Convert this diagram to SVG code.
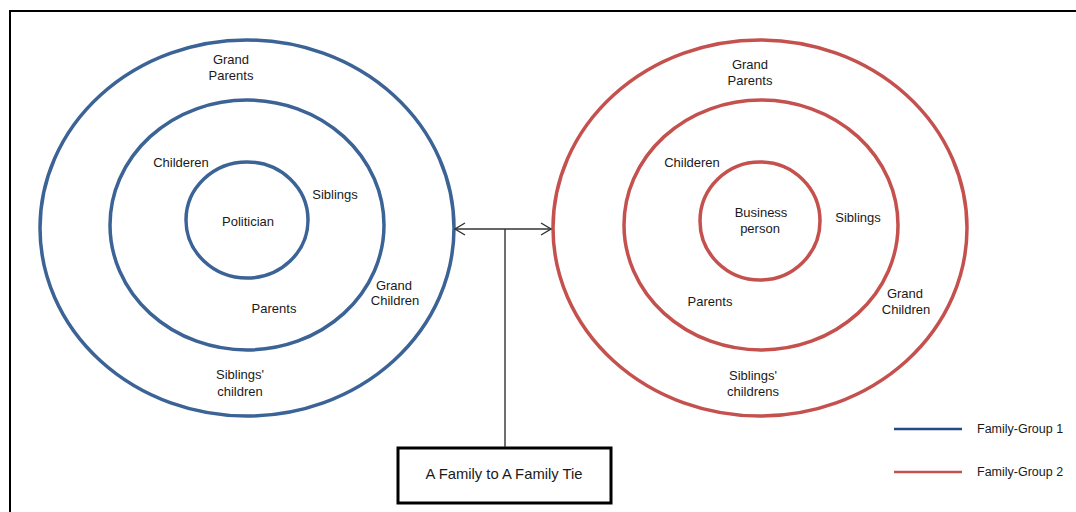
<svg xmlns="http://www.w3.org/2000/svg" width="1076" height="512" viewBox="0 0 1076 512">
  <defs>
    <style>
      .t { font-family: "Liberation Sans", Arial, sans-serif; font-size: 13px; fill: #1a1a1a; text-anchor: middle; }
      .lg { font-family: "Liberation Sans", Arial, sans-serif; font-size: 12.5px; fill: #1a1a1a; }
      .blue { fill: none; stroke: #3B6396; stroke-width: 3.5; }
      .red { fill: none; stroke: #C4514E; stroke-width: 3.5; }
      .conn { fill: none; stroke: #333333; stroke-width: 1.4; }
    </style>
    <marker id="arr" viewBox="0 0 12 14" refX="11" refY="7" markerWidth="12" markerHeight="14" markerUnits="userSpaceOnUse" orient="auto-start-reverse">
      <path d="M1,1 L11,7 L1,13" fill="none" stroke="#333333" stroke-width="1.4"/>
    </marker>
  </defs>
  <rect width="1076" height="512" fill="#ffffff"/>
  <path d="M10,512 L10,11 L1076,11" fill="none" stroke="#000000" stroke-width="2"/>

  <g id="group1">
    <ellipse class="blue" cx="247" cy="228" rx="207" ry="188"/>
    <ellipse class="blue" cx="247" cy="225" rx="137" ry="125"/>
    <ellipse class="blue" cx="247" cy="220" rx="61" ry="58"/>
    <text class="t" x="231" y="64">Grand</text>
    <text class="t" x="231" y="80">Parents</text>
    <text class="t" x="181" y="167">Childeren</text>
    <text class="t" x="335" y="199">Siblings</text>
    <text class="t" x="248" y="226">Politician</text>
    <text class="t" x="274" y="313">Parents</text>
    <text class="t" x="394" y="290">Grand</text>
    <text class="t" x="395" y="305">Children</text>
    <text class="t" x="240" y="379">Siblings'</text>
    <text class="t" x="240" y="396">children</text>
  </g>

  <g id="group2">
    <ellipse class="red" cx="760" cy="228" rx="207" ry="188"/>
    <ellipse class="red" cx="761" cy="225" rx="137" ry="125"/>
    <ellipse class="red" cx="760" cy="221" rx="60" ry="59"/>
    <text class="t" x="750" y="69">Grand</text>
    <text class="t" x="750" y="85">Parents</text>
    <text class="t" x="692" y="167">Childeren</text>
    <text class="t" x="761" y="217">Business</text>
    <text class="t" x="760" y="233">person</text>
    <text class="t" x="858" y="222">Siblings</text>
    <text class="t" x="710" y="306">Parents</text>
    <text class="t" x="905" y="298">Grand</text>
    <text class="t" x="906" y="314">Children</text>
    <text class="t" x="753" y="380">Siblings'</text>
    <text class="t" x="753" y="396">childrens</text>
  </g>

  <g id="tie">
    <rect x="398" y="448" width="213" height="55" fill="#ffffff" stroke="#000000" stroke-width="3"/>
    <text x="504" y="479" font-family="Liberation Sans, Arial, sans-serif" font-size="14.8" fill="#1a1a1a" text-anchor="middle">A Family to A Family Tie</text>
  </g>

  <g id="connectors">
    <line class="conn" x1="455" y1="229" x2="551" y2="229" marker-start="url(#arr)" marker-end="url(#arr)"/>
    <line class="conn" x1="505" y1="229" x2="505" y2="447"/>
  </g>

  <g id="legend">
    <line x1="894" y1="429" x2="962" y2="429" stroke="#24498A" stroke-width="2.5"/>
    <text class="lg" x="977" y="433">Family-Group 1</text>
    <line x1="894" y1="472" x2="962" y2="472" stroke="#C4514E" stroke-width="2.5"/>
    <text class="lg" x="977" y="476">Family-Group 2</text>
  </g>
</svg>
